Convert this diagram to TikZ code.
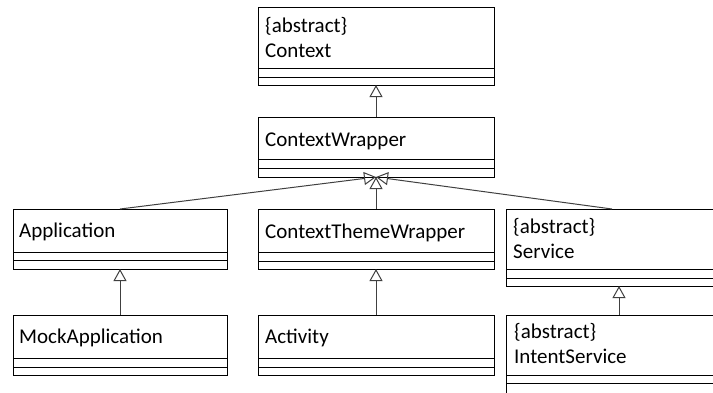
\documentclass[tikz,border=0pt]{standalone}
\usepackage{fontspec}
\setmainfont{Carlito}
\usetikzlibrary{arrows.meta}

% draws the two empty compartments (attributes, operations) of a class box
\newcommand\classrules[3]{%
  \draw[classline] ([yshift=-#2pt]#1.north west) -- ([yshift=-#2pt]#1.north east);
  \draw[classline] ([yshift=-#3pt]#1.north west) -- ([yshift=-#3pt]#1.north east);
}

\begin{document}
\begin{tikzpicture}[x=1pt,y=-1pt,
  font=\fontsize{21pt}{24pt}\selectfont,
  classbox/.style={draw=black, line width=1pt, fill=white, rectangle,
    inner sep=0pt, outer sep=0pt, anchor=north west},
  classline/.style={draw=black, line width=1pt},
  classname/.style={anchor=base west, inner sep=0pt},
  inherit/.style={draw=black!75, line width=1pt,
    -{Triangle[open, length=12pt, width=13pt, line width=1pt]}}
]
\useasboundingbox (0,0) rectangle (713,392);
\clip (0,0) rectangle (713,392);
\fill[white] (0,0) rectangle (713,392);

% Context
\node[classbox, minimum width=236pt, minimum height=78pt] (ctx) at (258,7) {};
\node[classname] at ([xshift=7pt,yshift=-25pt]ctx.north west) {\{abstract\}};
\node[classname] at ([xshift=7pt,yshift=-50pt]ctx.north west) {Context};
\classrules{ctx}{61}{70}

% ContextWrapper
\node[classbox, minimum width=236pt, minimum height=60pt] (cw) at (258,117) {};
\node[classname] at ([xshift=7pt,yshift=-29pt]cw.north west) {ContextWrapper};
\classrules{cw}{42}{51}

% Application
\node[classbox, minimum width=214pt, minimum height=60pt] (app) at (13,209) {};
\node[classname] at ([xshift=6pt,yshift=-28pt]app.north west) {Application};
\classrules{app}{43}{51}

% ContextThemeWrapper
\node[classbox, minimum width=236pt, minimum height=60pt] (ctw) at (258,209) {};
\node[classname] at ([xshift=7pt,yshift=-29pt]ctw.north west) {ContextThemeWrapper};
\classrules{ctw}{43}{52}

% Service
\node[classbox, minimum width=226pt, minimum height=77pt] (svc) at (506,209) {};
\node[classname] at ([xshift=7pt,yshift=-24pt]svc.north west) {\{abstract\}};
\node[classname] at ([xshift=7pt,yshift=-49pt]svc.north west) {Service};
\classrules{svc}{60}{69}

% MockApplication
\node[classbox, minimum width=214pt, minimum height=60pt] (mock) at (13,315) {};
\node[classname] at ([xshift=6pt,yshift=-28pt]mock.north west) {MockApplication};
\classrules{mock}{43}{52}

% Activity
\node[classbox, minimum width=236pt, minimum height=60pt] (act) at (258,315) {};
\node[classname] at ([xshift=7pt,yshift=-28pt]act.north west) {Activity};
\classrules{act}{43}{52}

% IntentService
\node[classbox, minimum width=226pt, minimum height=90pt] (isvc) at (506,315) {};
\node[classname] at ([xshift=8pt,yshift=-23pt]isvc.north west) {\{abstract\}};
\node[classname] at ([xshift=8pt,yshift=-48pt]isvc.north west) {IntentService};
\classrules{isvc}{60}{68}

% generalisations
\coordinate (svctop) at ([xshift=-7pt]svc.north);
\draw[inherit] (cw.north) -- (ctx.south);
\draw[inherit] (app.north) -- (cw.south);
\draw[inherit] (ctw.north) -- (cw.south);
\draw[inherit] (svctop) -- (cw.south);
\draw[inherit] (mock.north) -- (app.south);
\draw[inherit] (act.north) -- (ctw.south);
\draw[inherit] (isvc.north) -- (svc.south);
\end{tikzpicture}
\end{document}
